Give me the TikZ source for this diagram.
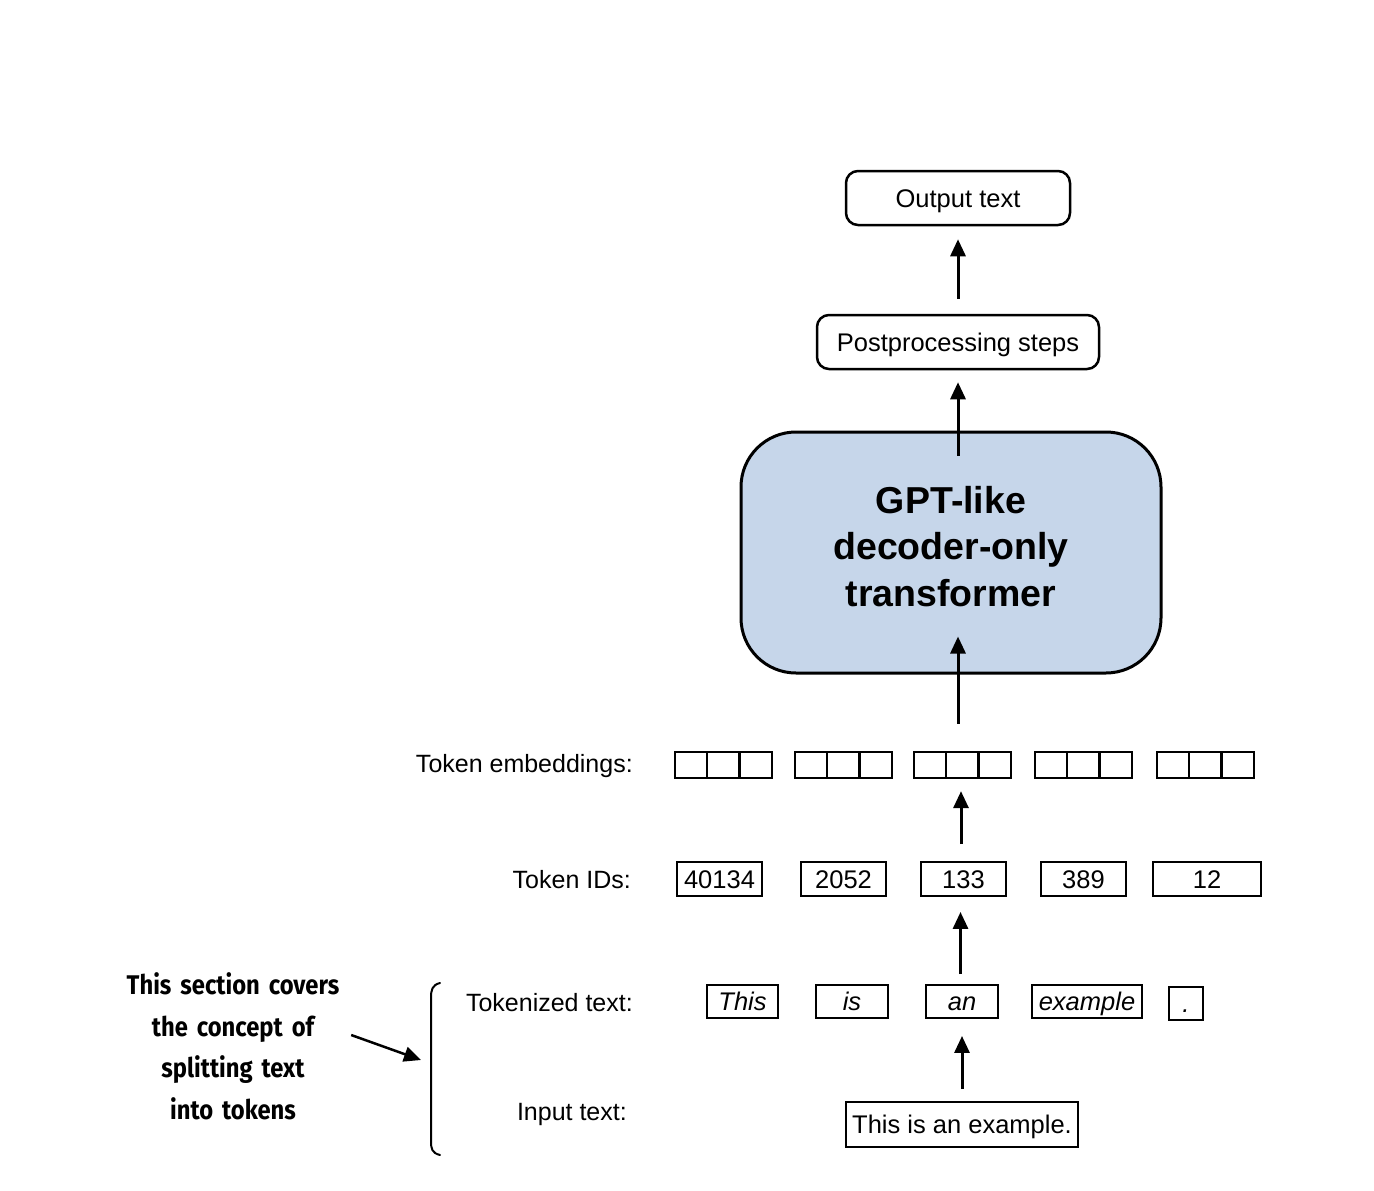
\documentclass[tikz,border=0pt]{standalone}
\usepackage{fontspec}
\setmainfont{Liberation Sans}
\newfontfamily\notefont{Fira Sans}[FakeStretch=0.88]
\usetikzlibrary{arrows.meta}
\definecolor{gptblue}{HTML}{C6D6EA}
\begin{document}
\begin{tikzpicture}[x=1pt,y=-1pt,
  lbl/.style={font=\fontsize{25}{30}\selectfont, inner sep=0pt},
  tok/.style={draw, line width=1.9pt, inner sep=0pt, font=\fontsize{25.5}{30}\selectfont, minimum height=34pt, text height=19pt, text depth=1pt},
  itok/.style={tok, minimum height=33pt, font=\fontsize{25.5}{30}\selectfont\itshape},
  sq/.style={draw, line width=2.3pt, inner sep=0pt, minimum width=32.3pt, minimum height=26pt},
  rbox/.style={draw, line width=2.5pt, rounded corners=12pt, inner sep=0pt, minimum height=54pt, font=\fontsize{25.5}{30}\selectfont, text height=19pt, text depth=1pt},
  arr/.style={line width=3pt, -{Triangle[length=17pt,width=15pt]}}]
\useasboundingbox (0,0) rectangle (1374,1191);

% top boxes
\node[rbox, minimum width=224pt] (out) at (958,198) {Output text};
\node[rbox, minimum width=282pt] (post) at (958,342) {Postprocessing steps};
\node[draw, line width=3pt, fill=gptblue, rounded corners=55pt, minimum width=420pt, minimum height=241pt,
      inner sep=0pt] (gpt) at (951,552.5) {};
\node[inner sep=0pt, align=center, font=\fontsize{37.5}{46.5}\selectfont\bfseries] (gpttext) at (951,546.5)
      {GPT-like\\decoder-only\\transformer};

% token embeddings
\node[lbl, anchor=east] (lemb) at (633,766) {Token embeddings:};
\foreach \g/\l in {1/675,2/795,3/914,4/1035,5/1157}{
  \node[sq] (e\g a) at (\l+16.15,765) {};
  \node[sq] (e\g b) at (\l+48.45,765) {};
  \node[sq] (e\g c) at (\l+80.75,765) {};
}

% token IDs
\node[lbl, anchor=east] (lids) at (631,880) {Token IDs:};
\node[tok, minimum width=85pt] (id1) at (719.5,879) {40134};
\node[tok, minimum width=85pt] (id2) at (843.5,879) {2052};
\node[tok, minimum width=85pt] (id3) at (963.5,879) {133};
\node[tok, minimum width=85pt] (id4) at (1083.5,879) {389};
\node[tok, minimum width=108pt] (id5) at (1207,879) {12};

% tokenized text
\node[lbl, anchor=east] (ltok) at (633,1003) {Tokenized text:};
\node[itok, minimum width=71pt] (t1) at (742.5,1001.5) {This};
\node[itok, minimum width=72pt] (t2) at (852,1001.5) {is};
\node[itok, minimum width=72pt] (t3) at (962,1001.5) {an};
\node[itok, minimum width=110pt] (t4) at (1087,1001.5) {example};
\node[itok, minimum width=34pt] (t5) at (1186,1003.5) {.};

% input text
\node[lbl, anchor=east] (linp) at (627,1114) {Input text:};
\node[tok, minimum width=232pt, minimum height=45pt] (inp) at (962,1124.5) {This is an example.};

% arrows
\draw[arr] ([yshift=15pt]post.north) -- ([yshift=-13pt]out.south);
\draw[arr] ([yshift=-25pt]gpt.north -| post.south) -- ([yshift=-12pt]post.south);
\draw[arr] ([yshift=27pt]e3b.north -| post.south) -- ([yshift=38pt]gpt.south -| post.south);
\draw[arr] ([xshift=-2.5pt,yshift=17pt]id3.north) -- ([xshift=-2.5pt,yshift=-12pt]id3.north |- e3b.south);
\draw[arr] ([xshift=-1.5pt,yshift=10pt]t3.north) -- ([xshift=-1.5pt,yshift=-15pt]id3.south -| t3.north);
\draw[arr] ([yshift=12pt]inp.north) -- ([yshift=-17pt]t3.south);

% note and bracket
\node[inner sep=0pt, text width=220pt, align=center, font=\fontsize{27}{41.5}\selectfont\notefont\bfseries] (note) at (233,1046.5)
  {This section covers\\the concept of\\splitting text\\into tokens};
\draw[line width=2pt, line cap=round] (440,983) .. controls (432,985) and (431,990) .. (431,998) -- (431,1141) .. controls (431,1149) and (432,1153) .. (440,1155);
\coordinate (brc) at (421,1060);
\draw[arr, line width=2.5pt] ([xshift=8pt,yshift=11.5pt]note.east) -- (brc);
\end{tikzpicture}
\end{document}
